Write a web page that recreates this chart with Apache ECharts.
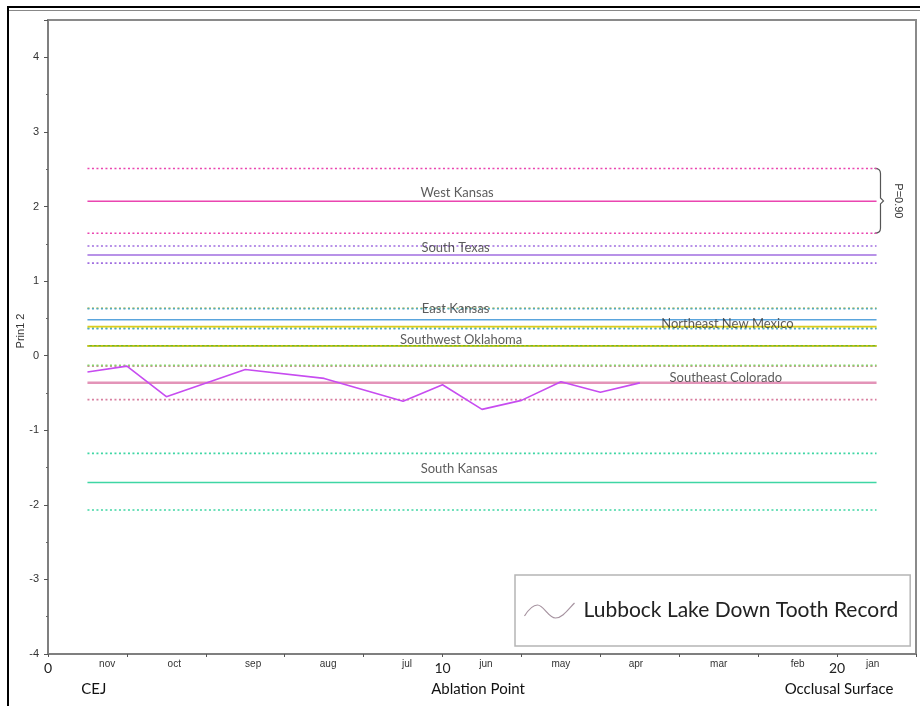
<!DOCTYPE html>
<html><head><meta charset="utf-8">
<script src="https://cdn.jsdelivr.net/npm/echarts@6/dist/echarts.min.js"></script>
<style>html,body{margin:0;padding:0;background:#fff}#c{width:920px;height:706px}</style>
</head><body><div id="c"></div>
<script>
// ---- data ----
const regionNames = ['South Kansas','Southeast Colorado','Southwest Oklahoma','Northeast New Mexico','East Kansas','South Texas','West Kansas'];
const regionMean  = [-1.70, -0.365, 0.13, 0.39, 0.48, 1.35, 2.07];
const regionUpper = [-1.31, -0.14, 0.37, 0.635, 0.63, 1.47, 2.51];
const regionLower = [-2.07, -0.59, -0.13, 0.13, 0.36, 1.24, 1.64];
const lineStartX = 1, lineEndX = 21;
const labelX = [10.42, 17.18, 10.47, 17.22, 10.33, 10.33, 10.37];
const labelY = [-1.523, -0.293, 0.208, 0.432, 0.634, 1.447, 2.186];
const recordName = 'Lubbock Lake Down Tooth Record';
const recordX = [1, 2, 3, 5, 7, 9, 10, 11, 12, 13, 14, 15];
const recordY = [-0.22, -0.14, -0.55, -0.185, -0.305, -0.61, -0.39, -0.72, -0.60, -0.35, -0.49, -0.365];
const xLabelled = [0, 10, 20];
const monthNames = ['nov','oct','sep','aug','jul','jun','may','apr','mar','feb','jan'];
const monthPos = [1.5, 3.2, 5.2, 7.1, 9.1, 11.1, 13.0, 14.9, 17.0, 19.0, 20.9];
const zoneNames = ['CEJ','Ablation Point','Occlusal Surface'];
const zonePos = [1.16, 10.9, 20.05];
const bracketX = 21.1;
const bracketTop = 2.51, bracketBottom = 1.64;
const pLabel = 'P=0.90';

// ---- styles ----
const solidColors  = ['#3fd6a4','#e394b8','#7cb518','#dccc1e','#5aa5dd','#a06ee0','#ea45b0'];
const dottedColors = ['#3fd6a4','#d87fa0','#86d66a','#d8c81a','#4fa8c8','#a06ee0','#ea45b0'];
const solidWidths  = [1.5, 2.5, 1.8, 1.8, 1.5, 1.5, 1.5];

const chart = echarts.init(document.getElementById('c'), null, {renderer:'canvas'});

const findIdx = (arr, v) => arr.findIndex(a => Math.abs(a - v) < 1e-6);

const series = [];
// dummy legend carrier (first series with the legend name)
series.push({type:'scatter', name: recordName, data: [], silent:true});

regionNames.forEach((n, i) => {
  const mk = (v, dotted, color, w) => ({
    type:'line', name: n + (dotted ? ' bound' : ''), silent:true, symbol:'none', animation:false,
    data: [[lineStartX, v], [lineEndX, v]],
    lineStyle: {color: color, width: w, type: dotted ? [2, 2.5] : 'solid'},
    z: 2
  });
  series.push(mk(regionUpper[i], true, dottedColors[i], 1.6));
  series.push(mk(regionLower[i], true, dottedColors[i], 1.6));
  series.push(mk(regionMean[i], false, solidColors[i], solidWidths[i]));
});

series.push({
  type:'scatter', name:'labels', silent:true, symbolSize:0, animation:false, z:5,
  data: regionNames.map((n, i) => ({name:n, value:[labelX[i], labelY[i]]})),
  label: {show:true, position:'inside', formatter: p => p.name, color:'#333', fontSize:13, fontFamily:'Lato'}
});

series.push({
  type:'line', name: recordName, symbol:'none', animation:false, z:4,
  data: recordX.map((x, i) => [x, recordY[i]]),
  lineStyle: {color:'#c74cf0', width:1.6}
});

series.push({
  type:'custom', name:'bracket', silent:true, animation:false, clip:false,
  data: [[bracketX, bracketTop, bracketBottom]],
  renderItem: (params, api) => {
    const t = api.coord([api.value(0), api.value(1)]);
    const b = api.coord([api.value(0), api.value(2)]);
    const x = t[0], yT = t[1], yB = b[1], yM = (yT + yB) / 2;
    const d = `M${x-6},${yT} Q${x},${yT} ${x},${yT+5} L${x},${yM-3} L${x+3},${yM} L${x},${yM+3} L${x},${yB-5} Q${x},${yB} ${x-6},${yB}`;
    return {type:'group', children:[
      {type:'path', shape:{pathData:d}, style:{stroke:'#555', fill:null, lineWidth:1.2}},
      {type:'text', x: x + 18, y: yM, rotation: -Math.PI/2,
       style:{text:pLabel, fill:'#333', font:'11px "Liberation Sans"', align:'center', verticalAlign:'middle'}}
    ]};
  }
});

const option = {
  animation:false,
  backgroundColor:'#fff',
  grid: {left:48, right:4, top:20, bottom:52, show:true, borderColor:'#8a8a8a', borderWidth:2},
  legend: {
    data:[recordName], left:515, top:575, selectedMode:false,
    padding:[25,12,25,7], itemWidth:50, itemHeight:16,
    icon:'path://M0,13 C5,5 9,2 13,2 C19,2 24,15 31,15 C38,15 44,6 50,0',
    itemStyle:{color:'none', borderColor:'#907888', borderWidth:1.2},
    textStyle:{fontSize:21, fontFamily:'Lato', color:'#222', padding:[0,0,0,4]},
    borderColor:'#b5b5b5', borderWidth:1.5, backgroundColor:'#fff'
  },
  xAxis: [
    {type:'value', min:0, max:22, interval:2, position:'bottom',
     axisLine:{onZero:false, lineStyle:{color:'#7f7f7f', width:2}},
     axisTick:{length:3, lineStyle:{color:'#555'}},
     splitLine:{show:false},
     axisLabel:{formatter: v => (findIdx(xLabelled, v) >= 0 ? String(v) : ''), fontSize:14, fontFamily:'Lato', color:'#222', margin:7}},
    {type:'value', min:0, max:22, position:'bottom',
     axisLine:{show:false, onZero:false}, axisTick:{show:false}, splitLine:{show:false},
     axisLabel:{customValues: monthPos, formatter: v => monthNames[findIdx(monthPos, v)] || '', fontSize:10, fontFamily:'Liberation Sans', color:'#333', margin:5}},
    {type:'value', min:0, max:22, position:'bottom',
     axisLine:{show:false, onZero:false}, axisTick:{show:false}, splitLine:{show:false},
     axisLabel:{customValues: zonePos, formatter: v => zoneNames[findIdx(zonePos, v)] || '', fontSize:15, fontFamily:'Lato', color:'#111', margin:28}}
  ],
  yAxis: {
    type:'value', min:-4, max:4.5, interval:1,
    name:'Prin1 2', nameLocation:'middle', nameGap:22, nameMoveOverlap:false,
    nameTextStyle:{fontSize:11, fontFamily:'Liberation Sans', color:'#333', padding:[0,0,0,12]},
    axisLine:{show:true, onZero:false, lineStyle:{color:'#7f7f7f', width:2}},
    axisTick:{show:true, length:4, lineStyle:{color:'#555'}},
    minorTick:{show:true, splitNumber:2, length:2, lineStyle:{color:'#666'}},
    splitLine:{show:false},
    axisLabel:{showMaxLabel:false, fontSize:11, fontFamily:'Liberation Sans', color:'#333', margin:9}
  },
  graphic: [
    {type:'line', shape:{x1:7, y1:7, x2:920, y2:7}, style:{stroke:'#000', lineWidth:2}, silent:true},
    {type:'line', shape:{x1:8, y1:10.5, x2:920, y2:10.5}, style:{stroke:'#888', lineWidth:1}, silent:true},
    {type:'line', shape:{x1:8, y1:6, x2:8, y2:706}, style:{stroke:'#000', lineWidth:2}, silent:true}
  ],
  series: series
};
chart.setOption(option);
</script>
</body></html>
